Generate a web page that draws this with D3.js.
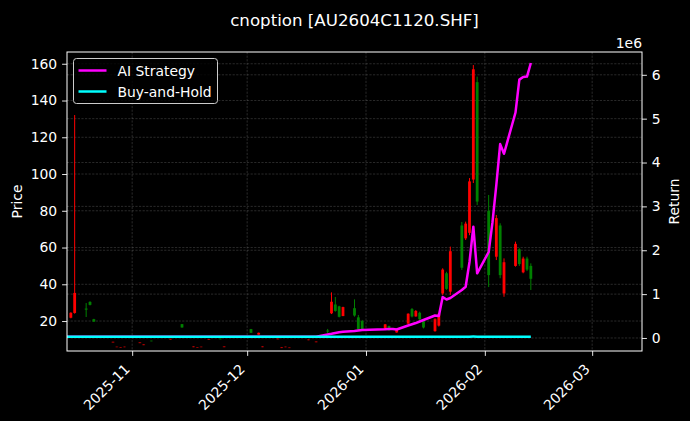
<!DOCTYPE html>
<html><head><meta charset="utf-8">
<script src="https://cdn.jsdelivr.net/npm/d3@7"></script>
<style>body{margin:0;background:#000;} svg{display:block;}</style>
</head><body>
<svg id="c" width="690" height="421"></svg>
<script>
// ---------- data ----------
const candleDates = ['2025-10-16','2025-10-17','2025-10-20','2025-10-21','2025-10-22','2025-10-27','2025-10-28','2025-10-29','2025-10-30','2025-11-03','2025-11-04','2025-11-06','2025-11-11','2025-11-14','2025-11-17','2025-11-18','2025-11-19','2025-11-21','2025-11-24','2025-11-25','2025-12-02','2025-12-04','2025-12-05','2025-12-09','2025-12-10','2025-12-11','2025-12-12','2025-12-17','2025-12-19','2025-12-22','2025-12-23','2025-12-24','2025-12-25','2025-12-26','2025-12-29','2025-12-30','2025-12-31','2026-01-06','2026-01-07','2026-01-09','2026-01-12','2026-01-13','2026-01-14','2026-01-15','2026-01-16','2026-01-19','2026-01-20','2026-01-21','2026-01-22','2026-01-23','2026-01-26','2026-01-27','2026-01-28','2026-01-29','2026-01-30','2026-02-02','2026-02-04','2026-02-05','2026-02-06','2026-02-09','2026-02-10','2026-02-11','2026-02-12','2026-02-13'];
const opens  = [21.8,24.4,26.8,30.4,21.0, 8.4,5.8,5.5,5.8,8.0,6.9,9.3,10.0,18.3,5.8,5.6,5.8,9.8,10.4,5.8,15.6,12.6,5.8,10.1,5.3,5.8,5.3,9.6,8.5,14.8,24.2,29.0,28.0,22.7,27.0,22.0,20.0,15.3,17.3,13.8,18.6,26.5,22.5,24.5,20.0,14.5,17.5,35.0,46.0,36.0,72.0,65.0,68.0,97.0,150.0,80.0,55.0,72.0,35.0,50.0,59.0,46.5,54.0,50.0];
const highs  = [24.8,132.1,29.8,30.8,21.2, 8.7,6.0,5.7,6.0,8.3,7.2,9.3,10.3,18.4,6.1,5.8,6.0,10.1,10.4,6.1,15.7,13.7,6.1,10.4,5.6,6.0,5.5,9.9,8.8,15.7,35.6,33.1,28.3,27.8,31.8,23.3,20.6,18.4,17.5,16.0,24.2,27.1,26.0,25.1,20.6,21.5,24.2,48.7,46.8,60.5,73.9,74.1,97.8,159.3,153.0,88.6,77.7,73.2,54.1,63.2,59.6,55.0,55.0,51.4];
const lows   = [21.5,24.0,22.2,28.5,19.5, 8.4,5.8,5.5,5.8,8.0,6.9,9.0,10.0,16.4,5.8,5.6,5.8,9.8,10.1,5.8,13.5,12.6,5.8,10.1,5.3,5.8,5.3,9.6,8.5,13.5,23.8,25.1,22.0,22.7,22.4,15.1,15.1,15.1,14.7,13.7,18.4,22.0,22.4,20.6,16.0,14.2,17.0,34.2,37.0,34.2,47.8,64.1,66.7,95.1,83.1,38.5,53.2,43.3,33.2,49.6,50.0,46.0,47.2,36.9];
const closes = [24.5,35.3,26.2,28.8,19.7, 8.7,6.0,5.7,6.0,8.3,7.2,9.0,10.3,16.5,6.1,5.8,6.0,10.1,10.1,6.1,13.6,13.6,6.1,10.4,5.6,6.0,5.5,9.9,8.8,14.3,30.5,25.5,22.3,27.6,23.0,15.5,15.3,18.2,15.0,15.8,24.0,22.5,25.5,21.0,16.5,21.0,24.0,48.0,37.5,58.0,49.0,73.0,96.0,157.0,85.0,45.0,76.0,45.0,52.0,62.0,51.0,54.0,48.0,43.0];

const returnDates = ['2025-10-15','2025-10-17','2025-10-22','2025-11-14','2025-12-04','2025-12-19','2025-12-22','2025-12-23','2025-12-24','2025-12-25','2025-12-26','2025-12-29','2025-12-30','2025-12-31','2026-01-06','2026-01-07','2026-01-08','2026-01-09','2026-01-12','2026-01-13','2026-01-14','2026-01-15','2026-01-16','2026-01-19','2026-01-20','2026-01-21','2026-01-22','2026-01-23','2026-01-26','2026-01-27','2026-01-28','2026-01-29','2026-01-30','2026-02-02','2026-02-03','2026-02-04','2026-02-05','2026-02-06','2026-02-09','2026-02-10','2026-02-11','2026-02-12','2026-02-13'];
const aiStrategy = [30000,30000,30000,30000,30000,30000,79000,95000,113000,130000,143000,159000,170000,182000,200000,205000,207000,192000,284000,312000,340000,376000,410000,512000,500000,934000,877000,911000,1094000,1169000,1732000,2537000,1474000,1960000,2640000,3490000,4420000,4200000,5140000,5890000,5950000,5960000,6270000];
const buyHold = [30000,30000,29000,29500,30000,30500,30000,30000,29500,30000,30000,30000,30500,30000,30000,30000,30000,30000,29500,30000,30000,30000,30000,30000,30000,30500,30000,30000,30000,30000,30500,31000,30000,30000,30000,30000,30500,30000,30000,30500,30500,30000,30000];

const priceTicks = [20,40,60,80,100,120,140,160];
const returnTicks = [0,1e6,2e6,3e6,4e6,5e6,6e6];
const monthTicks = ['2025-11-01','2025-12-01','2026-01-01','2026-02-01','2026-03-01'];
const titleText = 'cnoption [AU2604C1120.SHF]';
const seriesNames = ['AI Strategy','Buy-and-Hold'];

// ---------- setup ----------
const parse = d3.timeParse('%Y-%m-%d');
const svg = d3.select('#c');
const L = 67, R = 642, T = 52, B = 351;
const FONT = 'DejaVu Sans, Verdana, sans-serif';

const x = d3.scaleTime().domain([parse('2025-10-15'), parse('2026-03-14')]).range([L, R]);
const yP = d3.scaleLinear().domain([3.7, 166.4]).range([B, T]);
const yR = d3.scaleLinear().domain([-297000, 6520000]).range([B, T]);

svg.append('rect').attr('width',690).attr('height',421).attr('fill','#000');

const clip = svg.append('defs').append('clipPath').attr('id','pc');
clip.append('rect').attr('x',L).attr('y',T).attr('width',R-L).attr('height',B-T);

// grid
const grid = svg.append('g').attr('stroke','#8a8a8a').attr('stroke-opacity',0.5)
  .attr('stroke-width',0.6).attr('stroke-dasharray','2.2,1.4');
grid.selectAll('.gx').data(monthTicks.map(parse)).join('line')
  .attr('x1',d=>x(d)).attr('x2',d=>x(d)).attr('y1',T).attr('y2',B);
grid.selectAll('.gp').data(priceTicks).join('line')
  .attr('x1',L).attr('x2',R).attr('y1',d=>yP(d)).attr('y2',d=>yP(d));
grid.selectAll('.gr').data(returnTicks).join('line')
  .attr('x1',L).attr('x2',R).attr('y1',d=>yR(d)).attr('y2',d=>yR(d));

// candles
const candles = candleDates.map((d,i)=>({date:parse(d),o:opens[i],h:highs[i],l:lows[i],c:closes[i]}));
const cg = svg.append('g').attr('clip-path','url(#pc)');
const col = d => d.c >= d.o ? '#ff0000' : '#008000';
cg.selectAll('.wick').data(candles).join('line')
  .attr('x1',d=>x(d.date)).attr('x2',d=>x(d.date))
  .attr('y1',d=>yP(d.h)).attr('y2',d=>yP(d.l))
  .attr('stroke',col).attr('stroke-width',1);
cg.selectAll('.body').data(candles).join('rect')
  .attr('x',d=>x(d.date)-1.4).attr('width',2.8)
  .attr('y',d=>yP(Math.max(d.o,d.c)))
  .attr('height',d=>Math.abs(yP(d.o)-yP(d.c)))
  .attr('fill',col);

// lines
const rets = returnDates.map((d,i)=>({date:parse(d),ai:aiStrategy[i],bh:buyHold[i]}));
const lg = svg.append('g').attr('clip-path','url(#pc)');
lg.append('path').datum(rets)
  .attr('d',d3.line().x(d=>x(d.date)).y(d=>yR(d.ai)))
  .attr('fill','none').attr('stroke','#ff00ff').attr('stroke-width',2.5).attr('stroke-linejoin','round');
lg.append('path').datum(rets)
  .attr('d',d3.line().x(d=>x(d.date)).y(d=>yR(d.bh)))
  .attr('fill','none').attr('stroke','#00ffff').attr('stroke-width',2.5).attr('stroke-linejoin','round');

// axes
const fmtMonth = d3.timeFormat('%Y-%m');
const xAxis = svg.append('g').attr('transform',`translate(0,${B})`)
  .call(d3.axisBottom(x).tickValues(monthTicks.map(parse)).tickFormat(fmtMonth).tickSize(4.9).tickPadding(4.9));
xAxis.selectAll('text').attr('text-anchor','end').attr('dy',null).attr('y',null)
  .attr('transform','translate(-2,19) rotate(-45)').attr('dominant-baseline','auto');

const yAxisL = svg.append('g').attr('transform',`translate(${L},0)`)
  .call(d3.axisLeft(yP).tickValues(priceTicks).tickSize(4.9).tickPadding(4.9));
const yAxisR = svg.append('g').attr('transform',`translate(${R},0)`)
  .call(d3.axisRight(yR).tickValues(returnTicks).tickFormat(d=>d3.format('d')(d/1e6)).tickSize(4.9).tickPadding(4.9));

[xAxis,yAxisL,yAxisR].forEach(g=>{
  g.select('.domain').remove();
  g.selectAll('line').attr('stroke','#fff').attr('stroke-width',0.9);
  g.selectAll('text').attr('fill','#fff').attr('font-family',FONT).attr('font-size',13.9);
});

// frame
svg.append('rect').attr('x',L).attr('y',T).attr('width',R-L).attr('height',B-T)
  .attr('fill','none').attr('stroke','#fff').attr('stroke-width',1);

// labels
svg.append('text').attr('x',354.5).attr('y',25.5).attr('text-anchor','middle')
  .attr('fill','#fff').attr('font-family',FONT).attr('font-size',16.67).text(titleText);
svg.append('text').attr('transform','translate(22,201.5) rotate(-90)').attr('text-anchor','middle')
  .attr('fill','#fff').attr('font-family',FONT).attr('font-size',13.9).text('Price');
svg.append('text').attr('transform','translate(679,201.5) rotate(-90)').attr('text-anchor','middle')
  .attr('fill','#fff').attr('font-family',FONT).attr('font-size',13.9).text('Return');
svg.append('text').attr('x',R).attr('y',48.3).attr('text-anchor','end')
  .attr('fill','#fff').attr('font-family',FONT).attr('font-size',13.9).text('1e6');

// legend
const leg = svg.append('g');
leg.append('rect').attr('x',73.5).attr('y',58.5).attr('width',144).attr('height',45).attr('rx',3)
  .attr('fill','#000').attr('fill-opacity',0.8).attr('stroke','#ccc').attr('stroke-width',1);
const legColors = ['#ff00ff','#00ffff'];
seriesNames.forEach((n,i)=>{
  const cy = 70.5 + i*21;
  leg.append('line').attr('x1',78.5).attr('x2',106.5).attr('y1',cy).attr('y2',cy)
    .attr('stroke',legColors[i]).attr('stroke-width',2.5);
  leg.append('text').attr('x',117.5).attr('y',cy).attr('dy','0.36em')
    .attr('fill','#fff').attr('font-family',FONT).attr('font-size',13.9).text(n);
});
</script>
</body></html>
